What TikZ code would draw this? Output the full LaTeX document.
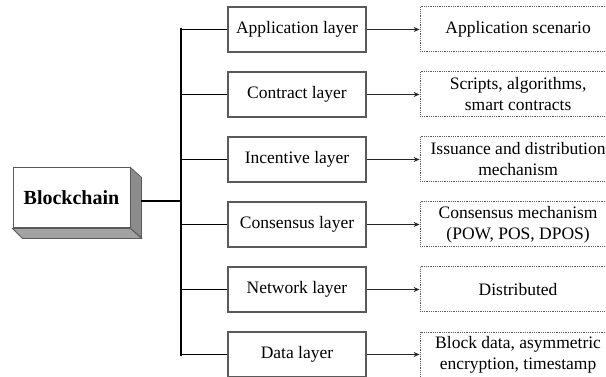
\documentclass[tikz,border=0pt]{standalone}
\usepackage{fontspec}
\setmainfont{Liberation Serif}
\usetikzlibrary{positioning, arrows.meta, calc}
\definecolor{boxgray}{HTML}{5A5A5A}
\definecolor{sidegray}{HTML}{8C8C8C}
\definecolor{basegray}{HTML}{A2A2A2}

\begin{document}
\begin{tikzpicture}[x=1pt, y=-1pt,
    layer/.style={draw=boxgray, line width=1.2pt, minimum width=138pt, minimum height=45pt, inner sep=0pt, font=\fontsize{17.5}{21}\selectfont},
    detail/.style={draw=boxgray, line width=1pt, dash pattern=on 1pt off 0.8pt, minimum width=196pt, minimum height=45pt, inner sep=0pt, align=center, font=\fontsize{17.5}{21}\selectfont},
    link/.style={draw=black!85, line width=0.9pt, -{Stealth[length=6pt, width=5pt]}},
    branch/.style={line width=1.6pt}]
  \useasboundingbox (0,0) rectangle (606,377);
  \node[draw=boxgray, fill=white, line width=1pt, minimum width=117pt, minimum height=60pt, font=\fontsize{20}{24}\selectfont\bfseries] (chain) at (71.5,198) {Blockchain};
  \filldraw[fill=sidegray, draw=boxgray, line width=0.8pt] (chain.north east) -- ++(11,10) -- ++(0,60) -- (chain.south east) -- cycle;
  \filldraw[fill=basegray, draw=boxgray, line width=0.8pt] (chain.south west) -- ++(10,10) -- ($(chain.south east)+(11,10)$) -- (chain.south east) -- cycle;

  \foreach \name/\lay/\desc [count=\i] in {%
      app/Application layer/Application scenario,
      ctr/Contract layer/{Scripts, algorithms,\\smart contracts},
      inc/Incentive layer/{Issuance and distribution\\mechanism},
      cns/Consensus layer/{Consensus mechanism\\(POW, POS, DPOS)},
      net/Network layer/Distributed,
      dat/Data layer/{Block data, asymmetric\\encryption, timestamp}}{
    \node[layer] (\name) at (297, {29.5+65*(\i-1)}) {\lay};
    \node[detail, right=53pt of \name] (\name-d) {\desc};
    \coordinate (\name-t) at (181, {29.5+65*(\i-1)});
    \draw[link] (\name) -- (\name-d);
    \draw[branch] (\name-t) -- (\name);
  }

  \draw[line width=2.6pt, line cap=rect] (app-t) -- (dat-t);
  \coordinate (chain-out) at (141,201);
  \coordinate (hub) at (181,201);
  \draw[branch] (chain-out) -- (hub);
\end{tikzpicture}
\end{document}
